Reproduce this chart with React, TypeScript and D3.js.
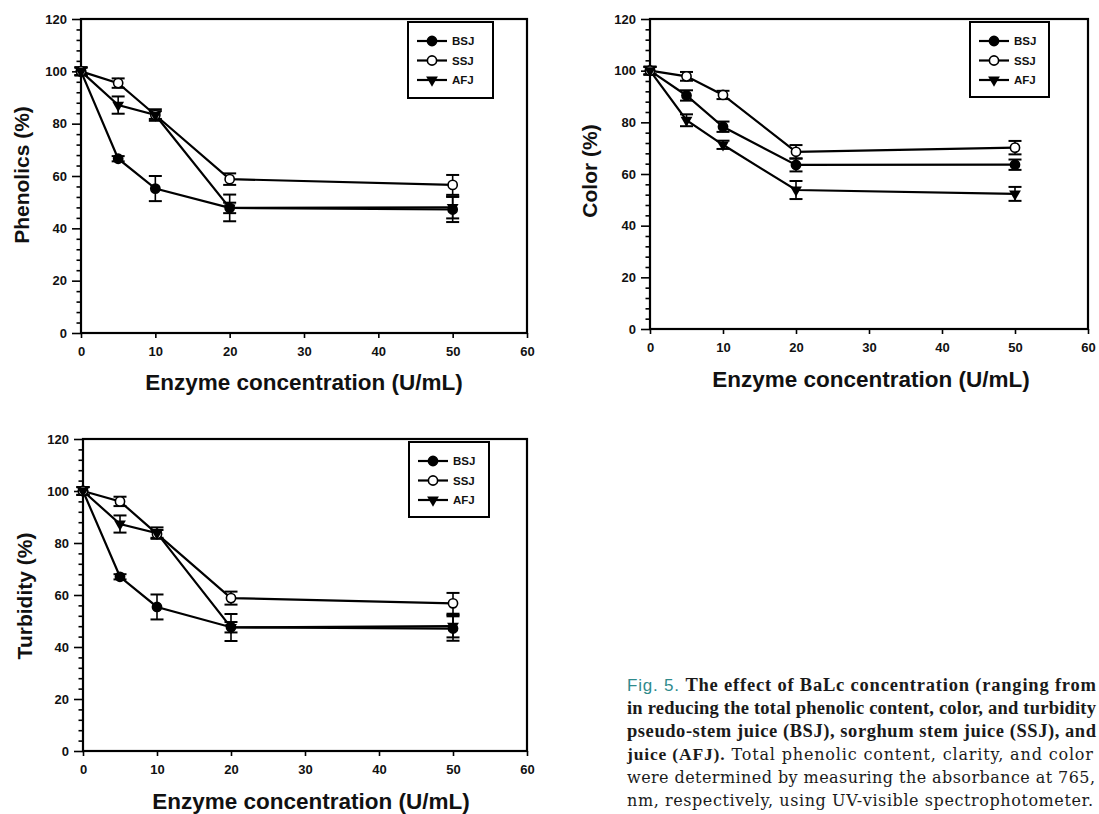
import React, { useEffect, useRef } from 'react';
import * as d3 from 'd3';

// enzyme concentration (U/mL)
const doses = [0, 5, 10, 20, 50];
const xTicks = [0, 10, 20, 30, 40, 50, 60];
const yTicks = [0, 20, 40, 60, 80, 100, 120];
const juices = ['BSJ', 'SSJ', 'AFJ'];

// Phenolics (%)
const phenBSJ = [100, 66.6, 55.2, 47.8, 47.2];
const phenBSJErr = [1.5, 1, 4.8, 2, 4.8];
const phenSSJ = [100, 95.5, 83.3, 58.8, 56.6];
const phenSSJErr = [1.5, 1.8, 1.5, 2.2, 3.8];
const phenAFJ = [100, 87.1, 83.3, 47.8, 48];
const phenAFJErr = [1.5, 3.3, 2.2, 5.1, 4.2];

// Color (%)
const colBSJ = [100, 90.4, 78.3, 63.5, 63.6];
const colBSJErr = [1.5, 2, 2, 2.5, 2];
const colSSJ = [100, 97.8, 90.6, 68.6, 70.2];
const colSSJErr = [1.5, 1.7, 1.6, 2.6, 2.6];
const colAFJ = [100, 80.8, 71.3, 53.8, 52.3];
const colAFJErr = [1.5, 2.3, 1.6, 3.5, 2.7];

// Turbidity (%)
const turbBSJ = [100, 67, 55.4, 47.6, 47.1];
const turbBSJErr = [1.5, 1, 4.8, 2, 4.7];
const turbSSJ = [100, 96, 83.5, 58.8, 56.8];
const turbSSJErr = [1.5, 1.8, 1.5, 2.5, 4];
const turbAFJ = [100, 87.3, 83.8, 47.5, 48];
const turbAFJErr = [1.5, 3.3, 2.2, 5.2, 4.3];

const FONT = "'Liberation Sans', Arial, sans-serif";
const SERIF = "'DejaVu Serif', 'Liberation Serif', serif";
const SERIF_BOLD = "'Liberation Serif', 'Times New Roman', serif";

const panels = [
  {
    yLabel: 'Phenolics (%)',
    box: { left: 81, right: 527, top: 19, bottom: 333 },
    yLabelPos: [21, 175],
    titlePos: [304, 395],
    legend: { x: 408, y: 22, w: 85, h: 76 },
    values: [phenBSJ, phenSSJ, phenAFJ],
    errors: [phenBSJErr, phenSSJErr, phenAFJErr],
  },
  {
    yLabel: 'Color (%)',
    box: { left: 650, right: 1088, top: 19, bottom: 329 },
    yLabelPos: [589, 171],
    titlePos: [871, 392],
    legend: { x: 970, y: 22, w: 79, h: 75 },
    values: [colBSJ, colSSJ, colAFJ],
    errors: [colBSJErr, colSSJErr, colAFJErr],
  },
  {
    yLabel: 'Turbidity (%)',
    box: { left: 83, right: 527, top: 439, bottom: 751 },
    yLabelPos: [24, 596],
    titlePos: [311, 814],
    legend: { x: 409, y: 442, w: 80, h: 75 },
    values: [turbBSJ, turbSSJ, turbAFJ],
    errors: [turbBSJErr, turbSSJErr, turbAFJErr],
  },
];

const drawMarker = (sel, name, cx, cy) => {
  if (name === 'AFJ') {
    sel.append('path')
      .attr('d', d3.symbol(d3.symbolTriangle, 60)())
      .attr('transform', `translate(${cx},${cy}) rotate(180)`)
      .attr('fill', '#000');
  } else {
    sel.append('circle')
      .attr('cx', cx)
      .attr('cy', cy)
      .attr('r', 4.6)
      .attr('fill', name === 'SSJ' ? '#fff' : '#000')
      .attr('stroke', '#000')
      .attr('stroke-width', 1.6);
  }
};

const drawPanel = (root, p) => {
  const { left, right, top, bottom } = p.box;
  const x = d3.scaleLinear().domain([0, 60]).range([left, right]);
  const y = d3.scaleLinear().domain([0, 120]).range([bottom, top]);
  const g = root.append('g');

  // y axis, major + minor ticks
  const yAx = g.append('g')
    .attr('transform', `translate(${left},0)`)
    .call(d3.axisLeft(y).tickValues(yTicks).tickSize(9).tickPadding(5).tickFormat(d3.format('d')));
  const yMinor = g.append('g')
    .attr('transform', `translate(${left},0)`)
    .call(d3.axisLeft(y).tickValues(d3.range(0, 121, 4).filter(v => v % 20 !== 0)).tickSize(4.5).tickFormat(() => ''));

  const xAx = g.append('g')
    .attr('transform', `translate(0,${bottom})`)
    .call(d3.axisBottom(x).tickValues(xTicks).tickSize(5).tickPadding(9).tickFormat(d3.format('d')));

  [yAx, yMinor, xAx].forEach(a => {
    a.select('.domain').remove();
    a.attr('font-family', FONT).attr('font-size', 13).attr('font-weight', 'bold');
    a.selectAll('line').attr('stroke', '#000').attr('stroke-width', 1.6);
    a.selectAll('text').attr('fill', '#111');
  });

  // frame
  g.append('rect')
    .attr('x', left)
    .attr('y', top)
    .attr('width', right - left)
    .attr('height', bottom - top)
    .attr('fill', 'none')
    .attr('stroke', '#000')
    .attr('stroke-width', 2.2);

  const line = d3.line().x(d => x(d[0])).y(d => y(d[1]));

  // lines
  juices.forEach((name, si) => {
    const pts = doses.map((d, i) => [d, p.values[si][i]]);
    g.append('path')
      .attr('d', line(pts))
      .attr('fill', 'none')
      .attr('stroke', '#000')
      .attr('stroke-width', 2.2);
  });

  // error bars
  juices.forEach((name, si) => {
    doses.forEach((d, i) => {
      const v = p.values[si][i];
      const e = p.errors[si][i];
      const cx = x(d);
      const y1 = y(v + e);
      const y2 = y(v - e);
      g.append('line').attr('x1', cx).attr('x2', cx).attr('y1', y1).attr('y2', y2)
        .attr('stroke', '#000').attr('stroke-width', 1.6);
      [y1, y2].forEach(yy => {
        g.append('line').attr('x1', cx - 6.5).attr('x2', cx + 6.5).attr('y1', yy).attr('y2', yy)
          .attr('stroke', '#000').attr('stroke-width', 2);
      });
    });
  });

  // markers
  juices.forEach((name, si) => {
    doses.forEach((d, i) => drawMarker(g, name, x(d), y(p.values[si][i])));
  });

  // legend
  const lg = p.legend;
  const leg = g.append('g');
  leg.append('rect')
    .attr('x', lg.x).attr('y', lg.y).attr('width', lg.w).attr('height', lg.h)
    .attr('fill', '#fff').attr('stroke', '#000').attr('stroke-width', 2);
  juices.forEach((name, i) => {
    const ly = lg.y + 19 + i * 19.5;
    const lx = lg.x + 9;
    leg.append('line').attr('x1', lx).attr('x2', lx + 30).attr('y1', ly).attr('y2', ly)
      .attr('stroke', '#000').attr('stroke-width', 2.2);
    drawMarker(leg, name, lx + 15, ly);
    leg.append('text')
      .attr('x', lx + 35)
      .attr('y', ly)
      .attr('dy', '0.36em')
      .attr('font-family', FONT)
      .attr('font-weight', 'bold')
      .attr('font-size', 11.5)
      .attr('fill', '#111')
      .text(name);
  });

  // axis titles
  g.append('text')
    .attr('transform', `translate(${p.yLabelPos[0]},${p.yLabelPos[1]}) rotate(-90)`)
    .attr('text-anchor', 'middle')
    .attr('dy', '0.36em')
    .attr('font-family', FONT)
    .attr('font-weight', 'bold')
    .attr('font-size', 21)
    .attr('fill', '#111')
    .text(p.yLabel);

  g.append('text')
    .attr('x', p.titlePos[0])
    .attr('y', p.titlePos[1] - 5)
    .attr('text-anchor', 'middle')
    .attr('font-family', FONT)
    .attr('font-weight', 'bold')
    .attr('font-size', 22.5)
    .attr('fill', '#111')
    .text('Enzyme concentration (U/mL)');
};

const captionLines = [
  [{ t: 'Fig. 5. ', fig: true }, { t: 'The effect of BaLc concentration (ranging from', b: true }],
  [{ t: 'in reducing the total phenolic content, color, and turbidity', b: true }],
  [{ t: 'pseudo-stem juice (BSJ), sorghum stem juice (SSJ), and', b: true }],
  [{ t: 'juice (AFJ).', b: true }, { t: ' Total phenolic content, clarity, and color' }],
  [{ t: 'were determined by measuring the absorbance at 765,' }],
  [{ t: 'nm, respectively, using UV-visible spectrophotometer.' }],
];
const captionWidths = [469, 469, 469, 466, 468, 466];

const App = () => {
  const ref = useRef(null);

  useEffect(() => {
    const root = d3.select(ref.current);
    root.html('');
    panels.forEach(p => drawPanel(root, p));
  }, []);

  return (
    <svg
      width={1099}
      height={814}
      style={{ position: 'absolute', left: 0, top: 0, background: '#fff' }}
    >
      <rect x={0} y={0} width={1099} height={814} fill="#fff" />
      <g ref={ref} />
      {captionLines.map((ln, i) => (
        <text
          key={i}
          x={627}
          y={691 + i * 23}
          fontFamily={SERIF}
          fontSize={16}
          fill="#1a1a1a"
          textLength={captionWidths[i]}
          lengthAdjust="spacing"
        >
          {ln.map((s, j) => (
            <tspan
              key={j}
              fontFamily={s.fig ? FONT : s.b ? SERIF_BOLD : SERIF}
              fontSize={s.fig ? 17 : s.b ? (i < 3 ? 18.5 : 17.5) : 16}
              fontWeight={s.b ? 'bold' : 'normal'}
              fill={s.fig ? '#2f8a8c' : '#1a1a1a'}
            >
              {s.t}
            </tspan>
          ))}
        </text>
      ))}
    </svg>
  );
};

export default App;
